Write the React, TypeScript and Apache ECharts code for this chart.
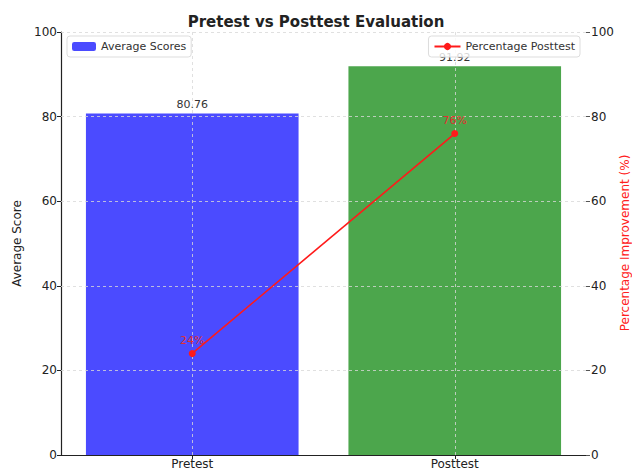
import React, { useEffect, useRef } from "react";
import * as echarts from "echarts";

const categories = ["Pretest", "Posttest"];
const averageScores = [80.76, 91.92];
const percentagePosttest = [24, 76];
const barColors = ["#4b4bff", "#4ca64c"];
const yTicks = [20, 40, 60, 80, 100];
const rightAxisName = "Percentage Improvement (%)";

const FONT = "DejaVu Sans";

export default function App() {
  const ref = useRef<HTMLDivElement>(null);
  useEffect(() => {
    if (!ref.current) return;
    const chart = echarts.init(ref.current, undefined, { renderer: "svg" });
    const gridLine = { color: "#d8d8d8", type: [3, 3] as any, width: 0.8 };
    chart.setOption({
      animation: false,
      textStyle: { fontFamily: FONT },
      title: {
        text: "Pretest vs Posttest Evaluation",
        left: "center",
        top: 9,
        textStyle: { fontSize: 15, fontWeight: "bold", color: "#222", fontFamily: FONT },
      },
      grid: { left: 61, right: 46, top: 32, bottom: 15, containLabel: false, outerBoundsMode: "none" },
      graphic: [
        {
          type: "text",
          x: 625,
          y: 243,
          rotation: Math.PI / 2,
          style: {
            text: rightAxisName,
            fill: "#ff2020",
            font: `12px "${FONT}"`,
            align: "center",
            verticalAlign: "middle",
          },
        },
      ],
      legend: [
        {
          data: ["Average Scores"],
          left: 67,
          top: 36,
          orient: "vertical",
          itemWidth: 24,
          itemHeight: 9,
          itemGap: 6,
          padding: [5, 5, 5, 5],
          borderColor: "#dddddd",
          borderWidth: 1,
          borderRadius: 3,
          backgroundColor: "rgba(255,255,255,0.8)",
          textStyle: { fontSize: 11, color: "#333", fontFamily: FONT },
          itemStyle: { color: barColors[0] },
        },
        {
          data: ["Percentage Posttest"],
          right: 52,
          top: 36,
          itemWidth: 26,
          itemHeight: 9,
          padding: [5, 5, 5, 5],
          borderColor: "#dddddd",
          borderWidth: 1,
          borderRadius: 3,
          backgroundColor: "rgba(255,255,255,0.8)",
          textStyle: { fontSize: 11, color: "#333", fontFamily: FONT },
        },
      ],
      xAxis: {
        type: "category",
        data: categories,
        axisLine: { show: true, lineStyle: { color: "#222", width: 1.2 } },
        axisTick: { show: true, alignWithLabel: true, length: 4, lineStyle: { color: "#222" } },
        axisLabel: { fontSize: 12, color: "#222", margin: 3, fontFamily: FONT },
        splitLine: { show: false },
      },
      yAxis: [
        {
          type: "value",
          min: 0,
          max: 100,
          interval: 20,
          name: "Average Score",
          nameLocation: "middle",
          nameGap: 37,
          nameRotate: 90,
          nameTextStyle: { fontSize: 12, color: "#222", fontFamily: FONT },
          axisLine: { show: true, lineStyle: { color: "#222", width: 1.2 } },
          axisTick: { show: true, length: 4, lineStyle: { color: "#222" } },
          axisLabel: { fontSize: 12, color: "#222", margin: 4, fontFamily: FONT },
          splitLine: { show: false },
        },
        {
          type: "value",
          min: 0,
          max: 100,
          interval: 20,
          position: "right",
          axisLine: { show: false },
          axisTick: { show: true, length: 4, inside: false, lineStyle: { color: "#555" } },
          axisLabel: { fontSize: 12, color: "#222", margin: 5, fontFamily: FONT },
          splitLine: { show: false },
        },
      ],
      series: [
        {
          name: "Average Scores",
          type: "bar",
          yAxisIndex: 0,
          barWidth: "81%",
          z: 1,
          data: averageScores.map((v, i) => ({ value: v, itemStyle: { color: barColors[i] } })),
          itemStyle: { color: barColors[0] },
          label: {
            show: true,
            position: "top",
            distance: 3,
            fontSize: 11,
            color: "#333",
            fontFamily: FONT,
          },
        },
        {
          name: "Percentage Posttest",
          type: "line",
          yAxisIndex: 1,
          z: 5,
          data: percentagePosttest,
          symbol: "circle",
          symbolSize: 7,
          lineStyle: { color: "#ff1a1a", width: 1.6 },
          itemStyle: { color: "#ff1a1a" },
          label: {
            show: true,
            position: "top",
            distance: 4,
            fontSize: 11,
            color: "#e03030",
            formatter: "{c}%",
            fontFamily: FONT,
          },
          markLine: {
            silent: true,
            symbol: "none",
            label: { show: false },
            lineStyle: gridLine,
            z: 3,
            data: [
              ...yTicks.map((t) => ({ yAxis: t })),
              ...categories.map((c) => ({ xAxis: c })),
            ],
          },
        },
      ],
    });
    return () => chart.dispose();
  }, []);
  return (
    <div
      ref={ref}
      style={{ position: "fixed", left: 0, top: 0, width: 632, height: 470, background: "#fff" }}
    />
  );
}
